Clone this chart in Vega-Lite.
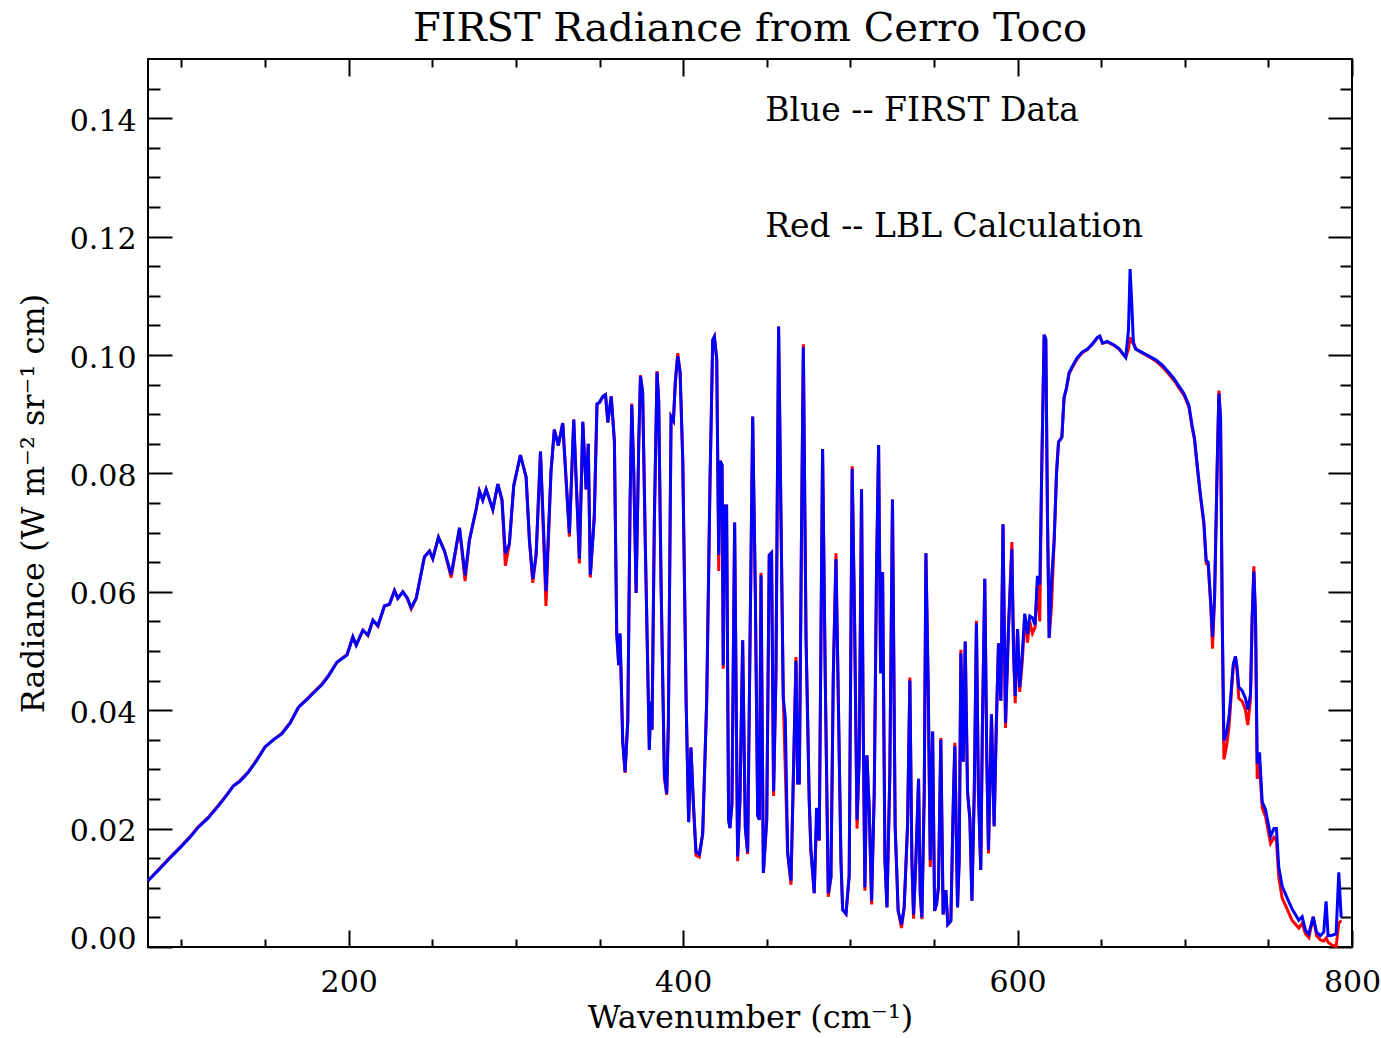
{
  "$schema": "https://vega.github.io/schema/vega-lite/v6.json",
  "width": 1204,
  "height": 888,
  "autosize": {"type": "none"},
  "padding": {"left": 148, "top": 59, "right": 29, "bottom": 91},
  "background": "white",
  "config": {
    "font": "DejaVu Serif",
    "view": {"stroke": "black", "strokeWidth": 2},
    "axis": {"domain": false, "grid": false, "tickColor": "black", "tickWidth": 2, "labelColor": "black", "titleColor": "black", "labelFont": "DejaVu Serif", "titleFont": "DejaVu Serif", "titleFontWeight": "normal", "labelFontSize": 30, "titleFontSize": 32, "labelFlush": false, "labelOverlap": false}
  },
  "title": {"text": "FIRST Radiance from Cerro Toco", "fontSize": 40, "fontWeight": "normal", "font": "DejaVu Serif", "color": "black", "offset": 9},
  "datasets": {
    "spec": [
      {"wn": 80, "first": 0.0112, "lbl": 0.0112},
      {"wn": 87, "first": 0.0132, "lbl": 0.0133},
      {"wn": 93, "first": 0.0150, "lbl": 0.0151},
      {"wn": 100, "first": 0.0170, "lbl": 0.0171},
      {"wn": 105, "first": 0.0185, "lbl": 0.0186},
      {"wn": 110, "first": 0.0202, "lbl": 0.0203},
      {"wn": 116, "first": 0.0218, "lbl": 0.0219},
      {"wn": 122, "first": 0.0238, "lbl": 0.0239},
      {"wn": 127, "first": 0.0256, "lbl": 0.0257},
      {"wn": 131, "first": 0.0272, "lbl": 0.0272},
      {"wn": 135, "first": 0.0280, "lbl": 0.0281},
      {"wn": 140, "first": 0.0295, "lbl": 0.0296},
      {"wn": 145, "first": 0.0315, "lbl": 0.0316},
      {"wn": 150, "first": 0.0338, "lbl": 0.0338},
      {"wn": 155, "first": 0.0350, "lbl": 0.0350},
      {"wn": 160, "first": 0.0360, "lbl": 0.0361},
      {"wn": 165, "first": 0.0378, "lbl": 0.0379},
      {"wn": 170, "first": 0.0405, "lbl": 0.0405},
      {"wn": 175, "first": 0.0418, "lbl": 0.0419},
      {"wn": 180, "first": 0.0432, "lbl": 0.0433},
      {"wn": 184, "first": 0.0443, "lbl": 0.0444},
      {"wn": 188, "first": 0.0458, "lbl": 0.0459},
      {"wn": 193, "first": 0.0481, "lbl": 0.0481},
      {"wn": 199, "first": 0.0493, "lbl": 0.0494},
      {"wn": 202.5, "first": 0.0524, "lbl": 0.0523},
      {"wn": 204.5, "first": 0.0510, "lbl": 0.0510},
      {"wn": 208.5, "first": 0.0535, "lbl": 0.0535},
      {"wn": 211.5, "first": 0.0527, "lbl": 0.0526},
      {"wn": 214.5, "first": 0.0552, "lbl": 0.0552},
      {"wn": 217.5, "first": 0.0543, "lbl": 0.0542},
      {"wn": 221.4, "first": 0.0576, "lbl": 0.0576},
      {"wn": 224.4, "first": 0.0579, "lbl": 0.0579},
      {"wn": 227.4, "first": 0.0602, "lbl": 0.0602},
      {"wn": 229.4, "first": 0.0589, "lbl": 0.0589},
      {"wn": 232.4, "first": 0.0600, "lbl": 0.0600},
      {"wn": 235, "first": 0.0590, "lbl": 0.0589},
      {"wn": 237.4, "first": 0.0573, "lbl": 0.0571},
      {"wn": 240.4, "first": 0.0589, "lbl": 0.0589},
      {"wn": 245.3, "first": 0.0659, "lbl": 0.0659},
      {"wn": 248.3, "first": 0.0669, "lbl": 0.0669},
      {"wn": 250.3, "first": 0.0656, "lbl": 0.0656},
      {"wn": 253.7, "first": 0.0692, "lbl": 0.0692},
      {"wn": 257.3, "first": 0.0669, "lbl": 0.0669},
      {"wn": 261.3, "first": 0.0629, "lbl": 0.0624},
      {"wn": 266.3, "first": 0.0708, "lbl": 0.0708},
      {"wn": 269.6, "first": 0.0628, "lbl": 0.0618},
      {"wn": 272.2, "first": 0.0687, "lbl": 0.0687},
      {"wn": 276.2, "first": 0.0739, "lbl": 0.0739},
      {"wn": 278.2, "first": 0.0770, "lbl": 0.0770},
      {"wn": 280.2, "first": 0.0755, "lbl": 0.0755},
      {"wn": 282.2, "first": 0.0773, "lbl": 0.0773},
      {"wn": 286.2, "first": 0.0739, "lbl": 0.0739},
      {"wn": 289.2, "first": 0.0782, "lbl": 0.0782},
      {"wn": 291.7, "first": 0.0755, "lbl": 0.0755},
      {"wn": 293.7, "first": 0.0665, "lbl": 0.0644},
      {"wn": 296.1, "first": 0.0681, "lbl": 0.0681},
      {"wn": 298.7, "first": 0.0779, "lbl": 0.0779},
      {"wn": 302.7, "first": 0.0831, "lbl": 0.0831},
      {"wn": 306.1, "first": 0.0794, "lbl": 0.0794},
      {"wn": 308.1, "first": 0.0687, "lbl": 0.0687},
      {"wn": 310.1, "first": 0.0622, "lbl": 0.0615},
      {"wn": 312.1, "first": 0.0662, "lbl": 0.0662},
      {"wn": 314.7, "first": 0.0837, "lbl": 0.0837},
      {"wn": 318.0, "first": 0.0601, "lbl": 0.0576},
      {"wn": 321.0, "first": 0.0804, "lbl": 0.0804},
      {"wn": 323.0, "first": 0.0874, "lbl": 0.0874},
      {"wn": 325.4, "first": 0.0847, "lbl": 0.0847},
      {"wn": 328.0, "first": 0.0885, "lbl": 0.0885},
      {"wn": 332.0, "first": 0.0699, "lbl": 0.0693},
      {"wn": 334.6, "first": 0.0891, "lbl": 0.0891},
      {"wn": 338.0, "first": 0.0656, "lbl": 0.0648},
      {"wn": 340.0, "first": 0.0887, "lbl": 0.0887},
      {"wn": 342.0, "first": 0.0773, "lbl": 0.0773},
      {"wn": 343.3, "first": 0.0850, "lbl": 0.0850},
      {"wn": 344.5, "first": 0.0629, "lbl": 0.0624},
      {"wn": 346.9, "first": 0.0724, "lbl": 0.0733},
      {"wn": 348.5, "first": 0.0917, "lbl": 0.0917},
      {"wn": 350.0, "first": 0.0920, "lbl": 0.0920},
      {"wn": 352.0, "first": 0.0930, "lbl": 0.0930},
      {"wn": 353.6, "first": 0.0933, "lbl": 0.0933},
      {"wn": 355.0, "first": 0.0886, "lbl": 0.0886},
      {"wn": 357.0, "first": 0.0930, "lbl": 0.0930},
      {"wn": 358.9, "first": 0.0855, "lbl": 0.0855},
      {"wn": 360.3, "first": 0.0530, "lbl": 0.0530},
      {"wn": 361.5, "first": 0.0476, "lbl": 0.0476},
      {"wn": 362.3, "first": 0.0530, "lbl": 0.0525},
      {"wn": 363.9, "first": 0.0347, "lbl": 0.0347},
      {"wn": 365.3, "first": 0.0296, "lbl": 0.0294},
      {"wn": 366.9, "first": 0.0381, "lbl": 0.0381},
      {"wn": 368.3, "first": 0.0754, "lbl": 0.0754},
      {"wn": 369.3, "first": 0.0916, "lbl": 0.0918},
      {"wn": 370.5, "first": 0.0801, "lbl": 0.0801},
      {"wn": 371.9, "first": 0.0598, "lbl": 0.0598},
      {"wn": 373.5, "first": 0.0855, "lbl": 0.0855},
      {"wn": 374.5, "first": 0.0964, "lbl": 0.0966},
      {"wn": 375.8, "first": 0.0937, "lbl": 0.0937},
      {"wn": 377.4, "first": 0.0679, "lbl": 0.0679},
      {"wn": 379.8, "first": 0.0333, "lbl": 0.0333},
      {"wn": 380.6, "first": 0.0415, "lbl": 0.0410},
      {"wn": 381.4, "first": 0.0367, "lbl": 0.0367},
      {"wn": 382.8, "first": 0.0720, "lbl": 0.0720},
      {"wn": 384.4, "first": 0.0971, "lbl": 0.0973},
      {"wn": 385.4, "first": 0.0923, "lbl": 0.0923},
      {"wn": 386.8, "first": 0.0618, "lbl": 0.0618},
      {"wn": 388.8, "first": 0.0293, "lbl": 0.0285},
      {"wn": 390.2, "first": 0.0259, "lbl": 0.0257},
      {"wn": 391.2, "first": 0.0381, "lbl": 0.0381},
      {"wn": 392.8, "first": 0.0896, "lbl": 0.0896},
      {"wn": 394.2, "first": 0.0889, "lbl": 0.0889},
      {"wn": 395.4, "first": 0.0957, "lbl": 0.0957},
      {"wn": 396.8, "first": 0.0998, "lbl": 0.1003},
      {"wn": 398.2, "first": 0.0971, "lbl": 0.0971},
      {"wn": 399.8, "first": 0.0821, "lbl": 0.0821},
      {"wn": 401.8, "first": 0.0415, "lbl": 0.0415},
      {"wn": 403.3, "first": 0.0211, "lbl": 0.0211},
      {"wn": 404.7, "first": 0.0337, "lbl": 0.0337},
      {"wn": 406.1, "first": 0.0245, "lbl": 0.0245},
      {"wn": 407.7, "first": 0.0161, "lbl": 0.0155},
      {"wn": 409.7, "first": 0.0157, "lbl": 0.0152},
      {"wn": 411.7, "first": 0.0191, "lbl": 0.0191},
      {"wn": 414.1, "first": 0.0415, "lbl": 0.0415},
      {"wn": 416.1, "first": 0.0788, "lbl": 0.0788},
      {"wn": 417.7, "first": 0.1025, "lbl": 0.1025},
      {"wn": 418.7, "first": 0.1031, "lbl": 0.1031},
      {"wn": 420.1, "first": 0.0993, "lbl": 0.0993},
      {"wn": 421.3, "first": 0.0662, "lbl": 0.0635},
      {"wn": 422.1, "first": 0.0821, "lbl": 0.0821},
      {"wn": 423.3, "first": 0.0814, "lbl": 0.0814},
      {"wn": 424.0, "first": 0.0476, "lbl": 0.0470},
      {"wn": 424.8, "first": 0.0745, "lbl": 0.0745},
      {"wn": 426.0, "first": 0.0745, "lbl": 0.0745},
      {"wn": 427.2, "first": 0.0215, "lbl": 0.0215},
      {"wn": 428.0, "first": 0.0201, "lbl": 0.0201},
      {"wn": 429.2, "first": 0.0242, "lbl": 0.0242},
      {"wn": 430.8, "first": 0.0717, "lbl": 0.0717},
      {"wn": 432.6, "first": 0.0153, "lbl": 0.0145},
      {"wn": 434.0, "first": 0.0249, "lbl": 0.0249},
      {"wn": 435.6, "first": 0.0518, "lbl": 0.0518},
      {"wn": 437.2, "first": 0.0201, "lbl": 0.0201},
      {"wn": 438.6, "first": 0.0160, "lbl": 0.0157},
      {"wn": 440.0, "first": 0.0511, "lbl": 0.0511},
      {"wn": 441.6, "first": 0.0896, "lbl": 0.0896},
      {"wn": 443.2, "first": 0.0594, "lbl": 0.0594},
      {"wn": 444.6, "first": 0.0222, "lbl": 0.0222},
      {"wn": 445.6, "first": 0.0215, "lbl": 0.0215},
      {"wn": 446.6, "first": 0.0628, "lbl": 0.0632},
      {"wn": 448.0, "first": 0.0125, "lbl": 0.0125},
      {"wn": 450.0, "first": 0.0215, "lbl": 0.0215},
      {"wn": 451.5, "first": 0.0662, "lbl": 0.0662},
      {"wn": 452.9, "first": 0.0666, "lbl": 0.0666},
      {"wn": 454.1, "first": 0.0263, "lbl": 0.0255},
      {"wn": 455.5, "first": 0.0456, "lbl": 0.0456},
      {"wn": 457.1, "first": 0.1048, "lbl": 0.1048},
      {"wn": 458.5, "first": 0.0731, "lbl": 0.0731},
      {"wn": 459.9, "first": 0.0421, "lbl": 0.0421},
      {"wn": 461.1, "first": 0.0387, "lbl": 0.0300},
      {"wn": 462.5, "first": 0.0160, "lbl": 0.0160},
      {"wn": 464.5, "first": 0.0112, "lbl": 0.0105},
      {"wn": 465.9, "first": 0.0284, "lbl": 0.0284},
      {"wn": 467.5, "first": 0.0483, "lbl": 0.0490},
      {"wn": 468.5, "first": 0.0277, "lbl": 0.0277},
      {"wn": 469.5, "first": 0.0277, "lbl": 0.0277},
      {"wn": 470.9, "first": 0.0731, "lbl": 0.0731},
      {"wn": 471.9, "first": 0.1013, "lbl": 0.1018},
      {"wn": 473.5, "first": 0.0525, "lbl": 0.0525},
      {"wn": 475.4, "first": 0.0249, "lbl": 0.0249},
      {"wn": 476.4, "first": 0.0167, "lbl": 0.0160},
      {"wn": 478.4, "first": 0.0091, "lbl": 0.0091},
      {"wn": 479.8, "first": 0.0235, "lbl": 0.0210},
      {"wn": 481.4, "first": 0.0180, "lbl": 0.0180},
      {"wn": 483.4, "first": 0.0841, "lbl": 0.0841},
      {"wn": 485.0, "first": 0.0456, "lbl": 0.0456},
      {"wn": 486.8, "first": 0.0091, "lbl": 0.0085},
      {"wn": 488.4, "first": 0.0118, "lbl": 0.0118},
      {"wn": 489.8, "first": 0.0456, "lbl": 0.0456},
      {"wn": 491.4, "first": 0.0655, "lbl": 0.0665},
      {"wn": 493.0, "first": 0.0387, "lbl": 0.0387},
      {"wn": 494.4, "first": 0.0146, "lbl": 0.0146},
      {"wn": 495.4, "first": 0.0063, "lbl": 0.0063},
      {"wn": 497.4, "first": 0.0056, "lbl": 0.0056},
      {"wn": 499.3, "first": 0.0120, "lbl": 0.0120},
      {"wn": 501.1, "first": 0.0808, "lbl": 0.0812},
      {"wn": 502.5, "first": 0.0560, "lbl": 0.0560},
      {"wn": 504.0, "first": 0.0215, "lbl": 0.0200},
      {"wn": 505.3, "first": 0.0319, "lbl": 0.0319},
      {"wn": 506.7, "first": 0.0773, "lbl": 0.0773},
      {"wn": 507.7, "first": 0.0376, "lbl": 0.0376},
      {"wn": 508.7, "first": 0.0101, "lbl": 0.0095},
      {"wn": 509.9, "first": 0.0324, "lbl": 0.0324},
      {"wn": 511.3, "first": 0.0233, "lbl": 0.0233},
      {"wn": 512.7, "first": 0.0078, "lbl": 0.0072},
      {"wn": 514.3, "first": 0.0261, "lbl": 0.0261},
      {"wn": 515.7, "first": 0.0645, "lbl": 0.0645},
      {"wn": 516.9, "first": 0.0848, "lbl": 0.0848},
      {"wn": 518.1, "first": 0.0462, "lbl": 0.0470},
      {"wn": 519.3, "first": 0.0633, "lbl": 0.0633},
      {"wn": 520.7, "first": 0.0147, "lbl": 0.0147},
      {"wn": 521.9, "first": 0.0067, "lbl": 0.0067},
      {"wn": 523.6, "first": 0.0290, "lbl": 0.0290},
      {"wn": 525.2, "first": 0.0756, "lbl": 0.0756},
      {"wn": 526.8, "first": 0.0204, "lbl": 0.0204},
      {"wn": 528.6, "first": 0.0061, "lbl": 0.0061},
      {"wn": 530.6, "first": 0.0038, "lbl": 0.0032},
      {"wn": 532.2, "first": 0.0067, "lbl": 0.0067},
      {"wn": 534.2, "first": 0.0204, "lbl": 0.0204},
      {"wn": 535.6, "first": 0.0450, "lbl": 0.0455},
      {"wn": 536.8, "first": 0.0147, "lbl": 0.0147},
      {"wn": 537.8, "first": 0.0055, "lbl": 0.0048},
      {"wn": 539.2, "first": 0.0147, "lbl": 0.0147},
      {"wn": 540.8, "first": 0.0284, "lbl": 0.0284},
      {"wn": 541.8, "first": 0.0090, "lbl": 0.0090},
      {"wn": 542.8, "first": 0.0050, "lbl": 0.0047},
      {"wn": 544.2, "first": 0.0261, "lbl": 0.0261},
      {"wn": 545.2, "first": 0.0665, "lbl": 0.0665},
      {"wn": 546.6, "first": 0.0433, "lbl": 0.0433},
      {"wn": 547.8, "first": 0.0147, "lbl": 0.0135},
      {"wn": 549.2, "first": 0.0364, "lbl": 0.0364},
      {"wn": 550.4, "first": 0.0061, "lbl": 0.0061},
      {"wn": 551.6, "first": 0.0073, "lbl": 0.0073},
      {"wn": 552.7, "first": 0.0101, "lbl": 0.0101},
      {"wn": 554.1, "first": 0.0350, "lbl": 0.0353},
      {"wn": 555.5, "first": 0.0055, "lbl": 0.0055},
      {"wn": 557.1, "first": 0.0096, "lbl": 0.0096},
      {"wn": 558.3, "first": 0.0038, "lbl": 0.0038},
      {"wn": 560.1, "first": 0.0044, "lbl": 0.0044},
      {"wn": 561.7, "first": 0.0261, "lbl": 0.0261},
      {"wn": 562.5, "first": 0.0339, "lbl": 0.0345},
      {"wn": 564.1, "first": 0.0067, "lbl": 0.0067},
      {"wn": 565.1, "first": 0.0147, "lbl": 0.0147},
      {"wn": 566.1, "first": 0.0496, "lbl": 0.0502},
      {"wn": 567.5, "first": 0.0313, "lbl": 0.0313},
      {"wn": 568.7, "first": 0.0516, "lbl": 0.0516},
      {"wn": 570.1, "first": 0.0261, "lbl": 0.0261},
      {"wn": 571.5, "first": 0.0216, "lbl": 0.0216},
      {"wn": 572.7, "first": 0.0078, "lbl": 0.0078},
      {"wn": 574.1, "first": 0.0261, "lbl": 0.0261},
      {"wn": 575.4, "first": 0.0547, "lbl": 0.0551},
      {"wn": 576.6, "first": 0.0261, "lbl": 0.0261},
      {"wn": 578.0, "first": 0.0130, "lbl": 0.0130},
      {"wn": 579.0, "first": 0.0376, "lbl": 0.0376},
      {"wn": 580.4, "first": 0.0622, "lbl": 0.0622},
      {"wn": 581.6, "first": 0.0319, "lbl": 0.0319},
      {"wn": 582.6, "first": 0.0164, "lbl": 0.0158},
      {"wn": 584.4, "first": 0.0393, "lbl": 0.0393},
      {"wn": 586.0, "first": 0.0204, "lbl": 0.0204},
      {"wn": 587.4, "first": 0.0387, "lbl": 0.0387},
      {"wn": 588.6, "first": 0.0513, "lbl": 0.0513},
      {"wn": 590.0, "first": 0.0416, "lbl": 0.0416},
      {"wn": 591.3, "first": 0.0714, "lbl": 0.0714},
      {"wn": 592.8, "first": 0.0379, "lbl": 0.0370},
      {"wn": 594.6, "first": 0.0540, "lbl": 0.0540},
      {"wn": 596.6, "first": 0.0672, "lbl": 0.0684},
      {"wn": 597.6, "first": 0.0499, "lbl": 0.0499},
      {"wn": 598.6, "first": 0.0424, "lbl": 0.0412},
      {"wn": 600.0, "first": 0.0537, "lbl": 0.0537},
      {"wn": 601.3, "first": 0.0439, "lbl": 0.0431},
      {"wn": 602.9, "first": 0.0499, "lbl": 0.0484},
      {"wn": 604.3, "first": 0.0563, "lbl": 0.0560},
      {"wn": 605.9, "first": 0.0529, "lbl": 0.0514},
      {"wn": 607.3, "first": 0.0559, "lbl": 0.0550},
      {"wn": 608.9, "first": 0.0556, "lbl": 0.0530},
      {"wn": 610.5, "first": 0.0544, "lbl": 0.0540},
      {"wn": 611.9, "first": 0.0627, "lbl": 0.0620},
      {"wn": 613.3, "first": 0.0612, "lbl": 0.0550},
      {"wn": 614.5, "first": 0.0815, "lbl": 0.0815},
      {"wn": 615.9, "first": 0.1034, "lbl": 0.1034},
      {"wn": 616.9, "first": 0.1026, "lbl": 0.1026},
      {"wn": 617.9, "first": 0.0725, "lbl": 0.0725},
      {"wn": 618.9, "first": 0.0522, "lbl": 0.0522},
      {"wn": 620.3, "first": 0.0620, "lbl": 0.0575},
      {"wn": 621.9, "first": 0.0687, "lbl": 0.0687},
      {"wn": 623.3, "first": 0.0800, "lbl": 0.0800},
      {"wn": 624.5, "first": 0.0853, "lbl": 0.0853},
      {"wn": 626.5, "first": 0.0861, "lbl": 0.0861},
      {"wn": 627.8, "first": 0.0928, "lbl": 0.0928},
      {"wn": 629.2, "first": 0.0943, "lbl": 0.0943},
      {"wn": 630.8, "first": 0.0970, "lbl": 0.0968},
      {"wn": 632.8, "first": 0.0981, "lbl": 0.0979},
      {"wn": 635.8, "first": 0.0996, "lbl": 0.0994},
      {"wn": 638.8, "first": 0.1005, "lbl": 0.1004},
      {"wn": 641.8, "first": 0.1010, "lbl": 0.1009},
      {"wn": 644.8, "first": 0.1019, "lbl": 0.1018},
      {"wn": 647.8, "first": 0.1030, "lbl": 0.1029},
      {"wn": 649.2, "first": 0.1032, "lbl": 0.1031},
      {"wn": 650.8, "first": 0.1020, "lbl": 0.1020},
      {"wn": 653.7, "first": 0.1023, "lbl": 0.1022},
      {"wn": 657.7, "first": 0.1017, "lbl": 0.1016},
      {"wn": 660.7, "first": 0.1011, "lbl": 0.1010},
      {"wn": 663.1, "first": 0.1002, "lbl": 0.1001},
      {"wn": 664.7, "first": 0.0996, "lbl": 0.0996},
      {"wn": 666.3, "first": 0.1041, "lbl": 0.1010},
      {"wn": 667.3, "first": 0.1145, "lbl": 0.1030},
      {"wn": 668.3, "first": 0.1087, "lbl": 0.1022},
      {"wn": 669.3, "first": 0.1019, "lbl": 0.1022},
      {"wn": 670.7, "first": 0.1010, "lbl": 0.1010},
      {"wn": 674.7, "first": 0.1004, "lbl": 0.1003},
      {"wn": 678.6, "first": 0.0998, "lbl": 0.0997},
      {"wn": 682.6, "first": 0.0992, "lbl": 0.0990},
      {"wn": 686.6, "first": 0.0983, "lbl": 0.0980},
      {"wn": 690.6, "first": 0.0970, "lbl": 0.0967},
      {"wn": 693.6, "first": 0.0960, "lbl": 0.0957},
      {"wn": 696.6, "first": 0.0947, "lbl": 0.0944},
      {"wn": 699.5, "first": 0.0935, "lbl": 0.0932},
      {"wn": 702.5, "first": 0.0915, "lbl": 0.0912},
      {"wn": 704.4, "first": 0.0880, "lbl": 0.0877},
      {"wn": 705.8, "first": 0.0860, "lbl": 0.0857},
      {"wn": 707.4, "first": 0.0815, "lbl": 0.0812},
      {"wn": 709.4, "first": 0.0763, "lbl": 0.0760},
      {"wn": 711.4, "first": 0.0718, "lbl": 0.0715},
      {"wn": 712.8, "first": 0.0653, "lbl": 0.0648},
      {"wn": 714.0, "first": 0.0650, "lbl": 0.0645},
      {"wn": 715.4, "first": 0.0588, "lbl": 0.0583},
      {"wn": 716.6, "first": 0.0524, "lbl": 0.0504},
      {"wn": 717.8, "first": 0.0588, "lbl": 0.0588},
      {"wn": 719.4, "first": 0.0815, "lbl": 0.0815},
      {"wn": 720.4, "first": 0.0935, "lbl": 0.0940},
      {"wn": 721.4, "first": 0.0893, "lbl": 0.0893},
      {"wn": 722.4, "first": 0.0556, "lbl": 0.0550},
      {"wn": 723.4, "first": 0.0349, "lbl": 0.0317},
      {"wn": 725.0, "first": 0.0362, "lbl": 0.0340},
      {"wn": 726.4, "first": 0.0388, "lbl": 0.0370},
      {"wn": 727.4, "first": 0.0420, "lbl": 0.0410},
      {"wn": 729.0, "first": 0.0478, "lbl": 0.0475},
      {"wn": 730.3, "first": 0.0491, "lbl": 0.0490},
      {"wn": 731.3, "first": 0.0472, "lbl": 0.0465},
      {"wn": 732.3, "first": 0.0439, "lbl": 0.0420},
      {"wn": 734.3, "first": 0.0433, "lbl": 0.0415},
      {"wn": 736.3, "first": 0.0420, "lbl": 0.0400},
      {"wn": 737.7, "first": 0.0401, "lbl": 0.0375},
      {"wn": 739.3, "first": 0.0427, "lbl": 0.0420},
      {"wn": 740.3, "first": 0.0556, "lbl": 0.0556},
      {"wn": 741.3, "first": 0.0634, "lbl": 0.0643},
      {"wn": 742.3, "first": 0.0556, "lbl": 0.0556},
      {"wn": 743.3, "first": 0.0310, "lbl": 0.0284},
      {"wn": 744.7, "first": 0.0329, "lbl": 0.0310},
      {"wn": 746.3, "first": 0.0245, "lbl": 0.0235},
      {"wn": 748.3, "first": 0.0232, "lbl": 0.0220},
      {"wn": 751.3, "first": 0.0187, "lbl": 0.0175},
      {"wn": 753.3, "first": 0.0200, "lbl": 0.0185},
      {"wn": 754.8, "first": 0.0200, "lbl": 0.0180},
      {"wn": 756.2, "first": 0.0135, "lbl": 0.0118},
      {"wn": 758.2, "first": 0.0103, "lbl": 0.0083},
      {"wn": 761.2, "first": 0.0083, "lbl": 0.0064},
      {"wn": 764.2, "first": 0.0064, "lbl": 0.0045},
      {"wn": 768.2, "first": 0.0045, "lbl": 0.0032},
      {"wn": 770.2, "first": 0.0051, "lbl": 0.0040},
      {"wn": 772.2, "first": 0.0028, "lbl": 0.0022},
      {"wn": 774.2, "first": 0.0022, "lbl": 0.0016},
      {"wn": 776.8, "first": 0.0051, "lbl": 0.0051},
      {"wn": 778.8, "first": 0.0025, "lbl": 0.0019},
      {"wn": 781.1, "first": 0.0019, "lbl": 0.0012},
      {"wn": 783.1, "first": 0.0025, "lbl": 0.0010},
      {"wn": 784.5, "first": 0.0077, "lbl": 0.0015},
      {"wn": 785.7, "first": 0.0019, "lbl": 0.0008},
      {"wn": 788.1, "first": 0.0020, "lbl": 0.0003},
      {"wn": 790.5, "first": 0.0022, "lbl": 0.0001},
      {"wn": 792.1, "first": 0.0126, "lbl": 0.0040},
      {"wn": 793.5, "first": 0.0051, "lbl": 0.0045}
    ],
    "notes": [
      {"wn": 449.1, "rad": 0.1396, "label": "Blue -- FIRST Data"},
      {"wn": 449.1, "rad": 0.1199, "label": "Red -- LBL Calculation"}
    ]
  },
  "layer": [
    {
      "data": {"name": "spec"},
      "mark": {"type": "line", "opacity": 0},
      "encoding": {
        "x": {"field": "wn", "type": "quantitative", "scale": {"domain": [80, 800], "nice": false, "zero": false},
          "axis": {"orient": "bottom", "values": [100, 150, 250, 300, 350, 450, 500, 550, 650, 700, 750], "tickSize": -8, "labels": false, "title": null}},
        "y": {"field": "first", "type": "quantitative", "scale": {"domain": [0, 0.15], "nice": false, "zero": false},
          "axis": {"orient": "left", "values": [0.005, 0.01, 0.015, 0.025, 0.03, 0.035, 0.045, 0.05, 0.055, 0.065, 0.07, 0.075, 0.085, 0.09, 0.095, 0.105, 0.11, 0.115, 0.125, 0.13, 0.135, 0.145], "tickSize": -12, "labels": false, "title": null}}
      }
    },
    {
      "data": {"name": "spec"},
      "mark": {"type": "line", "opacity": 0},
      "encoding": {
        "x": {"field": "wn", "type": "quantitative", "scale": {"domain": [80, 800], "nice": false, "zero": false},
          "axis": {"orient": "top", "values": [100, 150, 250, 300, 350, 450, 500, 550, 650, 700, 750], "tickSize": -8, "labels": false, "title": null}},
        "y": {"field": "first", "type": "quantitative", "scale": {"domain": [0, 0.15], "nice": false, "zero": false},
          "axis": {"orient": "right", "values": [0.005, 0.01, 0.015, 0.025, 0.03, 0.035, 0.045, 0.05, 0.055, 0.065, 0.07, 0.075, 0.085, 0.09, 0.095, 0.105, 0.11, 0.115, 0.125, 0.13, 0.135, 0.145], "tickSize": -12, "labels": false, "title": null}}
      }
    },
    {
      "data": {"name": "spec"},
      "mark": {"type": "line", "color": "#ff0000", "strokeWidth": 3},
      "encoding": {
        "x": {"field": "wn", "type": "quantitative", "scale": {"domain": [80, 800], "nice": false, "zero": false},
          "axis": {"orient": "bottom", "values": [200, 400, 600, 800], "format": "d", "tickSize": -17, "labelPadding": 37, "title": "Wavenumber (cm⁻¹)", "titlePadding": 5}},
        "y": {"field": "lbl", "type": "quantitative", "scale": {"domain": [0, 0.15], "nice": false, "zero": false},
          "axis": {"orient": "left", "values": [0, 0.02, 0.04, 0.06, 0.08, 0.1, 0.12, 0.14], "format": ".2f", "tickSize": -24, "labelPadding": 36, "labelOffset": {"condition": {"test": "datum.value == 0", "value": -8}, "value": 3}, "title": "Radiance (W m⁻² sr⁻¹ cm)", "titlePadding": 19}}
      }
    },
    {
      "data": {"name": "spec"},
      "mark": {"type": "line", "color": "#0000ff", "strokeWidth": 3},
      "encoding": {
        "x": {"field": "wn", "type": "quantitative", "scale": {"domain": [80, 800], "nice": false, "zero": false},
          "axis": {"orient": "top", "values": [200, 400, 600, 800], "tickSize": -17, "labels": false, "title": null}},
        "y": {"field": "first", "type": "quantitative", "scale": {"domain": [0, 0.15], "nice": false, "zero": false},
          "axis": {"orient": "right", "values": [0, 0.02, 0.04, 0.06, 0.08, 0.1, 0.12, 0.14], "tickSize": -24, "labels": false, "title": null}}
      }
    },
    {
      "data": {"name": "notes"},
      "mark": {"type": "text", "align": "left", "baseline": "alphabetic", "fontSize": 33, "font": "DejaVu Serif", "color": "black"},
      "encoding": {
        "x": {"field": "wn", "type": "quantitative", "scale": {"domain": [80, 800], "nice": false, "zero": false}, "axis": null},
        "y": {"field": "rad", "type": "quantitative", "scale": {"domain": [0, 0.15], "nice": false, "zero": false}, "axis": null},
        "text": {"field": "label", "type": "nominal"}
      }
    }
  ],
  "resolve": {"axis": {"x": "independent", "y": "independent"}}
}
